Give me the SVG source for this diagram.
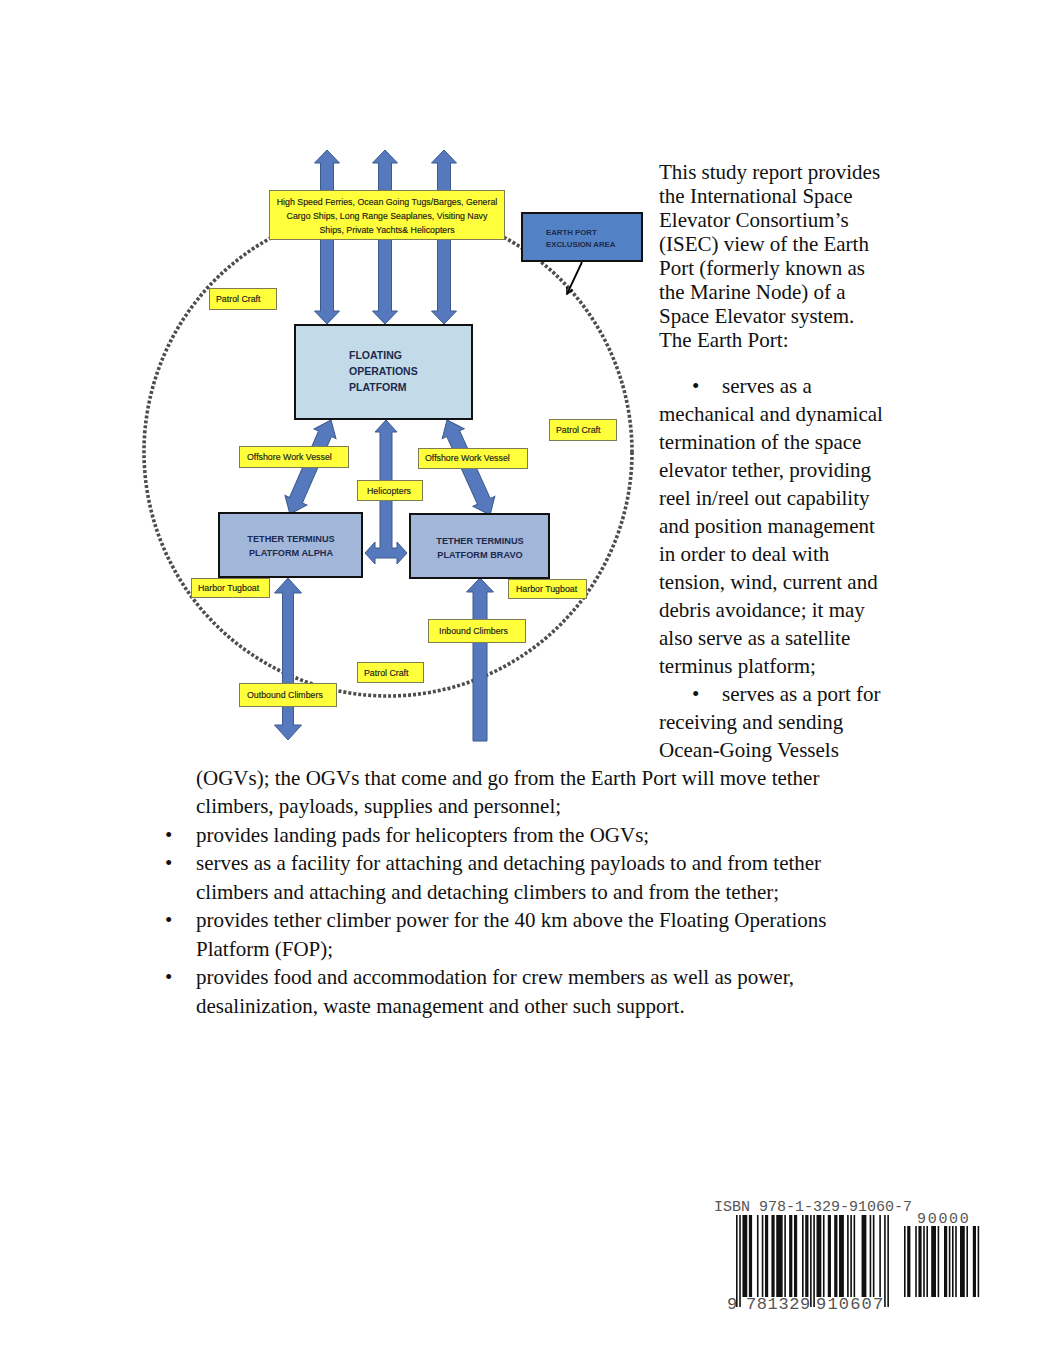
<svg xmlns="http://www.w3.org/2000/svg" width="1051" height="1360" viewBox="0 0 1051 1360">
<defs>
<style>
.arrow{fill:#5679bd;stroke:#3d5a8e;stroke-width:1;stroke-linejoin:miter}
.lbl rect{fill:#ffff3c;stroke:#7d7d55;stroke-width:1}
.lbl text{font-family:"Liberation Sans",Arial,sans-serif;font-size:8.8px;fill:#1a1a1a;stroke:#1a1a1a;stroke-width:0.15}
.plat text{font-family:"Liberation Sans",Arial,sans-serif;font-weight:bold;fill:#1c2a4e}
.body{font-family:"Liberation Serif","Times New Roman",serif;font-size:21px;fill:#111}
.mono{font-family:"Liberation Mono","Courier New",monospace;fill:#555}
</style>
<marker id="ah" viewBox="0 0 10 10" refX="9" refY="5" markerWidth="8" markerHeight="8" orient="auto" markerUnits="userSpaceOnUse">
<path d="M1,1 L9,5 L1,9" fill="none" stroke="#000" stroke-width="1.8"/>
</marker>
</defs>
<rect width="1051" height="1360" fill="#fff"/>

<g id="exclusion-circle">
<circle cx="388" cy="452" r="244" fill="none" stroke="#4d4d4d" stroke-width="3.6" stroke-dasharray="3 2"/>
</g>

<g id="connectors">
<polygon class="arrow" points="327,150 339.5,163 333.5,163 333.5,311 339.5,311 327,324 314.5,311 320.5,311 320.5,163 314.5,163"/>
<polygon class="arrow" points="385,150 397.5,163 391.5,163 391.5,311 397.5,311 385,324 372.5,311 378.5,311 378.5,163 372.5,163"/>
<polygon class="arrow" points="444,150 456.5,163 450.5,163 450.5,311 456.5,311 444,324 431.5,311 437.5,311 437.5,163 431.5,163"/>
<polygon class="arrow" transform="translate(331,420) rotate(113.6)" points="0,0 15,-12 15,-7 87.6,-7 87.6,-12 102.6,0 87.6,12 87.6,7 15,7 15,12"/>
<polygon class="arrow" transform="translate(447,420) rotate(65.6)" points="0,0 15,-12 15,-7 89.3,-7 89.3,-12 104.3,0 89.3,12 89.3,7 15,7 15,12"/>
<polygon class="arrow" points="386,420 397,432 392,432 392,548 397,548 397,542 407,553 397,564 397,558 375,558 375,564 365,553 375,542 375,548 380,548 380,432 375,432"/>
<polygon class="arrow" points="288,578 301.5,593 293.5,593 293.5,725 301.5,725 288,740 274.5,725 282.5,725 282.5,593 274.5,593"/>
<polygon class="arrow" points="480,578 493.5,592 487,592 487,741 473,741 473,592 466.5,592"/>
<line x1="582" y1="262" x2="567" y2="294" stroke="#000" stroke-width="1.8" marker-end="url(#ah)"/>
</g>

<g id="ogv-traffic" class="lbl">
<rect x="269.5" y="190.5" width="235" height="49"/>
<text x="387" y="205" text-anchor="middle" font-size="8.4">High Speed Ferries, Ocean Going Tugs/Barges, General</text>
<text x="387" y="219" text-anchor="middle" font-size="8.4">Cargo Ships, Long Range Seaplanes, Visiting Navy</text>
<text x="387" y="233" text-anchor="middle" font-size="8.4">Ships, Private Yachts&amp; Helicopters</text>
</g>

<g id="earth-port-exclusion-area" class="plat">
<rect x="522" y="213" width="120" height="48" fill="#5282c5" stroke="#111" stroke-width="2"/>
<text x="546" y="235" font-size="7.8">EARTH PORT</text>
<text x="546" y="247" font-size="7.8">EXCLUSION AREA</text>
</g>

<g id="floating-operations-platform" class="plat">
<rect x="295" y="325" width="177" height="94" fill="#c3dae8" stroke="#111" stroke-width="2"/>
<text x="349" y="359" font-size="10.5">FLOATING</text>
<text x="349" y="375" font-size="10.5">OPERATIONS</text>
<text x="349" y="391" font-size="10.5">PLATFORM</text>
</g>

<g id="tether-terminus-alpha" class="plat">
<rect x="219" y="513" width="143" height="64" fill="#a2b6da" stroke="#111" stroke-width="2"/>
<text x="291" y="542" text-anchor="middle" font-size="9.2">TETHER TERMINUS</text>
<text x="291" y="556" text-anchor="middle" font-size="9.2">PLATFORM ALPHA</text>
</g>

<g id="tether-terminus-bravo" class="plat">
<rect x="410" y="514" width="139" height="64" fill="#a2b6da" stroke="#111" stroke-width="2"/>
<text x="480" y="544" text-anchor="middle" font-size="9.2">TETHER TERMINUS</text>
<text x="480" y="558" text-anchor="middle" font-size="9.2">PLATFORM BRAVO</text>
</g>

<g id="patrol-craft-1" class="lbl"><rect x="209.5" y="288.5" width="67" height="21"/><text x="216" y="302">Patrol Craft</text></g>
<g id="patrol-craft-2" class="lbl"><rect x="549.5" y="419.5" width="67" height="21"/><text x="556" y="433">Patrol Craft</text></g>
<g id="offshore-work-vessel-1" class="lbl"><rect x="239.5" y="446.5" width="109" height="21"/><text x="247" y="460">Offshore Work Vessel</text></g>
<g id="offshore-work-vessel-2" class="lbl"><rect x="418.5" y="448.5" width="109" height="20"/><text x="425" y="461">Offshore Work Vessel</text></g>
<g id="helicopters" class="lbl"><rect x="357.5" y="480.5" width="65" height="20"/><text x="367" y="494">Helicopters</text></g>
<g id="harbor-tugboat-1" class="lbl"><rect x="191.5" y="578.5" width="78" height="19"/><text x="198" y="591">Harbor Tugboat</text></g>
<g id="harbor-tugboat-2" class="lbl"><rect x="508.5" y="579.5" width="78" height="19"/><text x="516" y="592">Harbor Tugboat</text></g>
<g id="inbound-climbers" class="lbl"><rect x="428.5" y="619.5" width="97" height="23"/><text x="439" y="634">Inbound Climbers</text></g>
<g id="patrol-craft-3" class="lbl"><rect x="357.5" y="662.5" width="66" height="20"/><text x="364" y="676">Patrol Craft</text></g>
<g id="outbound-climbers" class="lbl"><rect x="239.5" y="683.5" width="97" height="23"/><text x="247" y="698">Outbound Climbers</text></g>

<g id="text-right" class="body">
<text x="659" y="179">This study report provides</text>
<text x="659" y="203">the International Space</text>
<text x="659" y="227">Elevator Consortium’s</text>
<text x="659" y="251">(ISEC) view of the Earth</text>
<text x="659" y="275">Port (formerly known as</text>
<text x="659" y="299">the Marine Node) of a</text>
<text x="659" y="323">Space Elevator system.</text>
<text x="659" y="347">The Earth Port:</text>
<text x="692" y="393">•</text><text x="722" y="393">serves as a</text>
<text x="659" y="421">mechanical and dynamical</text>
<text x="659" y="449">termination of the space</text>
<text x="659" y="477">elevator tether, providing</text>
<text x="659" y="505">reel in/reel out capability</text>
<text x="659" y="533">and position management</text>
<text x="659" y="561">in order to deal with</text>
<text x="659" y="589">tension, wind, current and</text>
<text x="659" y="617">debris avoidance; it may</text>
<text x="659" y="645">also serve as a satellite</text>
<text x="659" y="673">terminus platform;</text>
<text x="692" y="701">•</text><text x="722" y="701">serves as a port for</text>
<text x="659" y="729">receiving and sending</text>
<text x="659" y="757">Ocean-Going Vessels</text>
</g>

<g id="text-bottom" class="body">
<text x="196" y="785">(OGVs); the OGVs that come and go from the Earth Port will move tether</text>
<text x="196" y="813">climbers, payloads, supplies and personnel;</text>
<text x="165" y="842">•</text><text x="196" y="842">provides landing pads for helicopters from the OGVs;</text>
<text x="165" y="870">•</text><text x="196" y="870">serves as a facility for attaching and detaching payloads to and from tether</text>
<text x="196" y="899">climbers and attaching and detaching climbers to and from the tether;</text>
<text x="165" y="927">•</text><text x="196" y="927">provides tether climber power for the 40 km above the Floating Operations</text>
<text x="196" y="956">Platform (FOP);</text>
<text x="165" y="984">•</text><text x="196" y="984">provides food and accommodation for crew members as well as power,</text>
<text x="196" y="1013">desalinization, waste management and other such support.</text>
</g>

<g id="barcode">
<text class="mono" x="714" y="1211" font-size="15">ISBN 978-1-329-91060-7</text>
<text class="mono" x="917" y="1223" font-size="15" letter-spacing="1.7">90000</text>
<g transform="translate(736,1215) scale(1.61,1)" fill="#111">
<rect x="0" width="1" height="92"/><rect x="2" width="1" height="92"/>
<rect x="4" width="3" height="82"/><rect x="8" width="2" height="82"/>
<rect x="13" width="1" height="82"/><rect x="16" width="1" height="82"/>
<rect x="18" width="2" height="82"/><rect x="22" width="2" height="82"/>
<rect x="25" width="4" height="82"/><rect x="30" width="1" height="82"/>
<rect x="33" width="2" height="82"/><rect x="36" width="2" height="82"/>
<rect x="41" width="1" height="82"/><rect x="43" width="2" height="82"/>
<rect x="46" width="1" height="92"/><rect x="48" width="1" height="92"/>
<rect x="50" width="3" height="82"/><rect x="54" width="1" height="82"/>
<rect x="57" width="2" height="82"/><rect x="61" width="2" height="82"/>
<rect x="64" width="3" height="82"/><rect x="69" width="1" height="82"/>
<rect x="71" width="1" height="82"/><rect x="73" width="1" height="82"/>
<rect x="78" width="3" height="82"/><rect x="83" width="1" height="82"/>
<rect x="85" width="1" height="82"/><rect x="89" width="1" height="82"/>
<rect x="92" width="1" height="92"/><rect x="94" width="1" height="92"/>
</g>
<g transform="translate(904,1226) scale(1.6,1)" fill="#111">
<rect x="0" width="1" height="71"/><rect x="2" width="2" height="71"/>
<rect x="7" width="1" height="71"/><rect x="9" width="2" height="71"/>
<rect x="12" width="1" height="71"/><rect x="14" width="1" height="71"/>
<rect x="17" width="3" height="71"/><rect x="21" width="1" height="71"/>
<rect x="25" width="2" height="71"/><rect x="28" width="1" height="71"/>
<rect x="30" width="1" height="71"/><rect x="32" width="1" height="71"/>
<rect x="35" width="3" height="71"/><rect x="39" width="1" height="71"/>
<rect x="43" width="2" height="71"/><rect x="46" width="1" height="71"/>
</g>
<text class="mono" x="727" y="1309" font-size="17">9</text>
<text class="mono" x="746" y="1309" font-size="17" letter-spacing="0.6">781329</text>
<text class="mono" x="816" y="1309" font-size="17" letter-spacing="1.2">910607</text>
</g>
</svg>
